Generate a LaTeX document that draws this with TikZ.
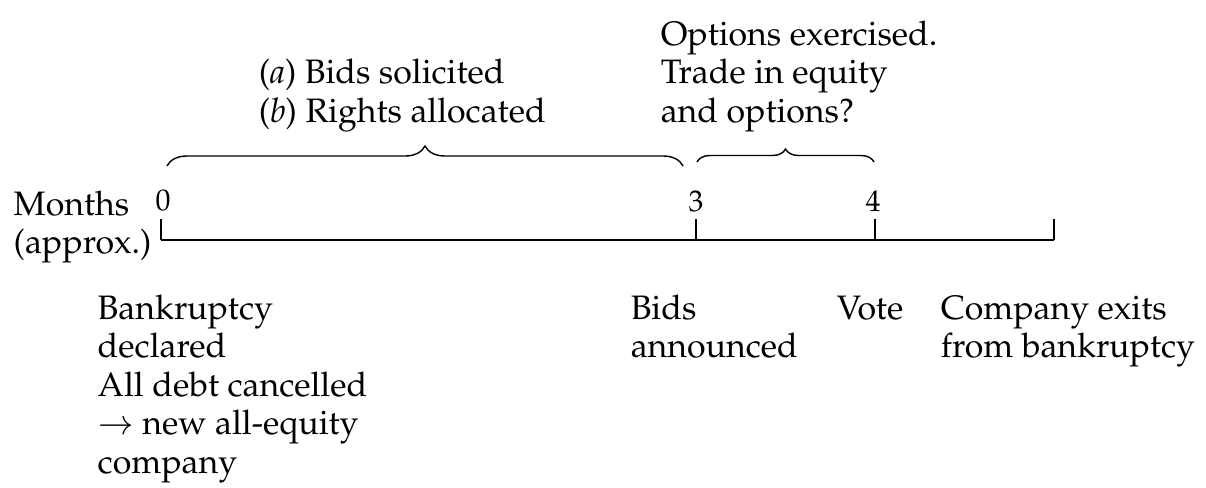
\documentclass[tikz,border=0pt]{standalone}
\usepackage[T1]{fontenc}
\usepackage{mathpazo}
\usetikzlibrary{decorations.pathreplacing}
\tikzset{
  txt/.style={anchor=base west, inner sep=0pt, align=left,
    font=\fontsize{19.3}{21.9}\selectfont},
  num/.style={anchor=base, inner sep=0pt, font=\fontsize{17}{20}\selectfont},
  brc/.style={decorate, decoration={brace, amplitude=#1}, line width=0.8pt},
}
\begin{document}
\begin{tikzpicture}[x=0.02cm, y=-0.02cm, line width=0.85pt]
\useasboundingbox (0,0) rectangle (1206,487);
\coordinate (T0) at (161,240);
\coordinate (T3) at (696,240);
\coordinate (T4) at (875,240);
\coordinate (T5) at (1054,240);
% time line
\draw (T0) -- (T5);
\foreach \p in {T0,T3,T4,T5}
  \draw (\p) -- ++(0,-21);
\node[num] (n0) at (163,210) {0};
\node[num] (n3) at (696,211) {3};
\node[num] (n4) at (873,211) {4};
% (base of a block = its last line)
\node[txt] (months) at (13,253.5) {Months\\(approx.)};
% braces
\coordinate (B1) at (167,166);
\coordinate (B2) at (683,166);
\coordinate (B3) at (697,162);
\coordinate (B4) at (874,162);
\draw[brc=0.4cm] (B1) -- (B2);
\draw[brc=0.26cm] (B3) -- (B4);
% labels above
\node[txt] (bids) at (258,122) {(\textit{a}) Bids solicited\\(\textit{b}) Rights allocated};
\node[txt] (opts) at (660,122) {Options exercised.\\Trade in equity\\and options?};
% labels below
\node[txt] (bank) at (97,473) {Bankruptcy\\declared\\All debt cancelled\\$\rightarrow$ new all-equity\\company};
\node[txt] (ann) at (630,357.5) {Bids\\announced};
\node[txt] (vote) at (836,319) {Vote};
\node[txt] (exit) at (940,357.5) {Company exits\\from bankruptcy};
\end{tikzpicture}
\end{document}
